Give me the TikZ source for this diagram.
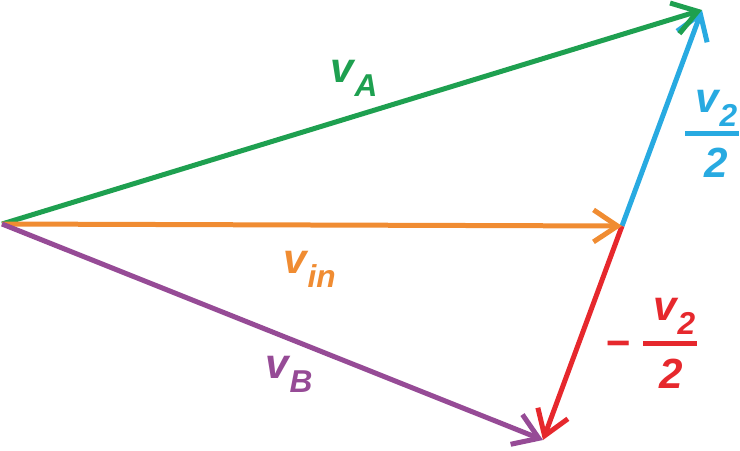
\documentclass[tikz,border=0pt]{standalone}
\usepackage{fontspec}
\setmainfont{Liberation Sans}
\usetikzlibrary{arrows.meta}
\definecolor{vgreen}{RGB}{30,160,80}
\definecolor{vorange}{RGB}{240,140,50}
\definecolor{vblue}{RGB}{40,170,225}
\definecolor{vred}{RGB}{230,40,45}
\definecolor{vpurple}{RGB}{150,75,150}
\newcommand{\vlab}[1]{v\kern0.5pt\raisebox{-8pt}{\fontsize{18}{18}\selectfont #1}}
\tikzset{
  vecarrow/.style={line width=0.1cm,-{Straight Barb[length=0.48cm,width=0.64cm]}},
  veclabel/.style={inner sep=0pt,anchor=base west,font=\fontsize{24}{24}\selectfont\bfseries\itshape},
  fracbar/.style={line width=0.1cm}
}
\begin{document}
\begin{tikzpicture}[x=0.02cm,y=-0.02cm]
  \useasboundingbox (0,0) rectangle (740,450);
  \coordinate (O) at (2,224);
  \coordinate (A) at (702,10);
  \coordinate (I) at (622,226);
  \coordinate (B) at (543,440);
  \draw[vecarrow,vblue] (I) -- (A);
  \draw[vecarrow,vred] (I) -- (B);
  \draw[vecarrow,vgreen] (O) -- (A);
  \draw[vecarrow,vorange] (O) -- (I);
  \draw[vecarrow,vpurple] (O) -- (B);
  \node[veclabel,vgreen] (la) at (330,82) {\vlab{A}};
  \node[veclabel,vorange] (lin) at (283,273) {\vlab{in}};
  \node[veclabel,vpurple] (lb) at (265,378) {\vlab{B}};
  \node[veclabel,vblue] (nblue) at (695,112) {\vlab{2}};
  \draw[fracbar,vblue] (685,133) -- (739,133);
  \node[veclabel,vblue,anchor=base] (dblue) at (716,177) {2};
  \node[veclabel,vred,anchor=base] (mred) at (618,357) {−};
  \node[veclabel,vred] (nred) at (653,320) {\vlab{2}};
  \draw[fracbar,vred] (643,343) -- (697,343);
  \node[veclabel,vred,anchor=base] (dred) at (671,388) {2};
\end{tikzpicture}
\end{document}
